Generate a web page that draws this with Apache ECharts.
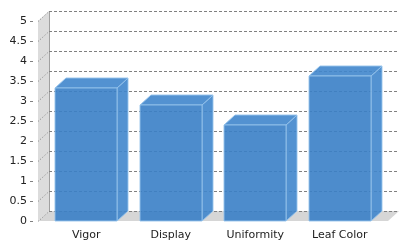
<!DOCTYPE html>
<html><head><meta charset="utf-8">
<script src="https://cdn.jsdelivr.net/npm/echarts@6/dist/echarts.min.js"></script>
<style>html,body{margin:0;padding:0;background:#fff}#c{width:410px;height:250px}</style>
</head><body><div id="c"></div>
<script>
var categories = ['Vigor', 'Display', 'Uniformity', 'Leaf Color'];
var values = [3.33, 2.9, 2.4, 3.62];
var yTicks = [0, 0.5, 1, 1.5, 2, 2.5, 3, 3.5, 4, 4.5, 5];

var DX = 11, DY = -10, EXT = 6;
var chart = echarts.init(document.getElementById('c'), null, {renderer: 'canvas'});

function decoRender(params, api) {
  var cs = params.coordSys;
  var x0 = cs.x - EXT, x1 = cs.x + cs.width + EXT;
  var yb = cs.y + cs.height, yt = cs.y;
  var kids = [];
  kids.push({type: 'polygon', shape: {points: [[x0, yb], [x0 + DX, yb + DY], [x0 + DX, yt + DY], [x0, yt]]},
    style: {fill: '#dcdcdc'}});
  kids.push({type: 'polygon', shape: {points: [[x0, yb], [x1, yb], [x1 + DX, yb + DY], [x0 + DX, yb + DY]]},
    style: {fill: '#d6d6d6'}});
  kids.push({type: 'line', shape: {x1: x0 + DX + 0.5, y1: yb + DY, x2: x0 + DX + 0.5, y2: yt + DY},
    style: {stroke: '#a0a0a0', lineWidth: 1}});
  yTicks.forEach(function (v) {
    var y = Math.round(api.coord([0, v])[1]) + 0.5;
    kids.push({type: 'line', shape: {x1: x0 + DX, y1: y + DY, x2: x1 + DX, y2: y + DY},
      style: {stroke: '#808080', lineWidth: 1, lineDash: [3, 2]}});
    kids.push({type: 'line', shape: {x1: x0, y1: y, x2: x0 + DX, y2: y + DY},
      style: {stroke: '#808080', lineWidth: 1, lineDash: [1, 2]}});
  });
  return {type: 'group', children: kids};
}

function barRender(params, api) {
  var idx = api.value(0);
  var val = api.value(1);
  var top = api.coord([idx, val]);
  var bot = api.coord([idx, 0]);
  var w = api.size([1, 0])[0] * 0.73;
  var l = Math.round(top[0] - w / 2), r = Math.round(top[0] + w / 2);
  var t = Math.round(top[1]), b = Math.round(bot[1]);
  var fill = 'rgba(58,128,198,0.9)';
  var edge = 'rgba(150,195,235,0.9)';
  return {type: 'group', children: [
    {type: 'polygon', shape: {points: [[r, t], [r + DX, t + DY], [r + DX, b + DY], [r, b]]},
      style: {fill: 'rgba(64,134,204,0.9)', stroke: edge, lineWidth: 1}},
    {type: 'polygon', shape: {points: [[l, t], [l + DX, t + DY], [r + DX, t + DY], [r, t]]},
      style: {fill: 'rgba(64,134,204,0.9)', stroke: edge, lineWidth: 1}},
    {type: 'rect', shape: {x: l, y: t, width: r - l, height: b - t},
      style: {fill: fill, stroke: edge, lineWidth: 1}}
  ]};
}

chart.setOption({
  animation: false,
  backgroundColor: '#fff',
  grid: {left: 44, right: 28, top: 21, bottom: 29},
  xAxis: {
    type: 'category', data: categories,
    axisLine: {show: false}, axisTick: {show: false},
    axisLabel: {color: '#222', fontFamily: 'DejaVu Sans', fontSize: 11, margin: 9},
    splitLine: {show: false}
  },
  yAxis: {
    type: 'value', min: 0, max: 5, interval: 0.5, offset: 11,
    axisLine: {show: false},
    axisTick: {show: true, length: 3, lineStyle: {color: '#808080'}},
    axisLabel: {color: '#222', fontFamily: 'DejaVu Sans', fontSize: 11, margin: 6},
    splitLine: {show: false}
  },
  series: [
    {type: 'custom', renderItem: decoRender, data: [[0, 0]], z: 1, silent: true},
    {type: 'custom', renderItem: barRender, z: 2,
      data: values.map(function (v, i) { return [i, v]; })}
  ]
});
</script></body></html>
